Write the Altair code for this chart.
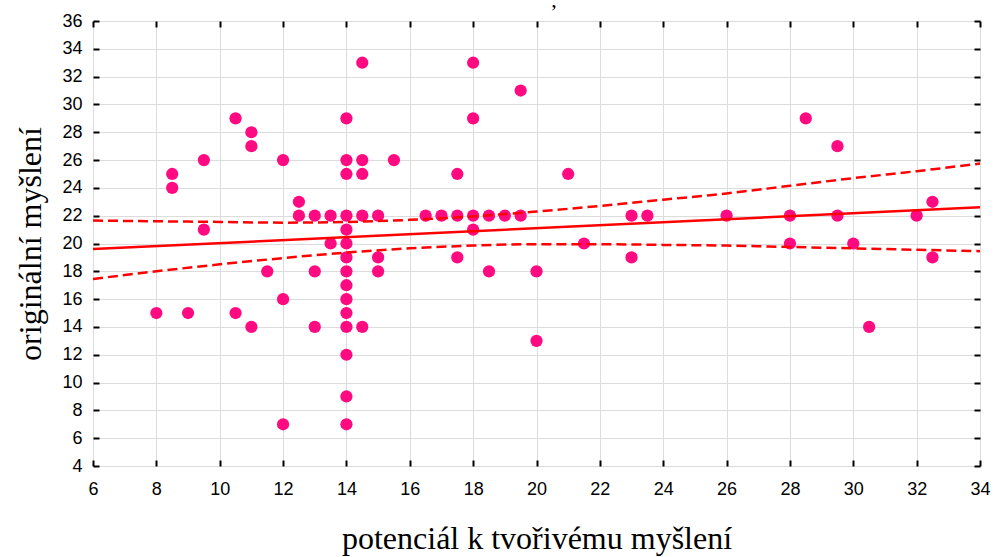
import altair as alt
import pandas as pd

# ---- data ----
pt_x = [8, 8.5, 8.5, 9, 9.5, 9.5, 10.5, 10.5, 11, 11, 11, 11.5,
        12, 12, 12, 12.5, 12.5, 13, 13, 13, 13.5, 13.5,
        14, 14, 14, 14, 14, 14, 14, 14, 14, 14, 14, 14, 14, 14, 14,
        14.5, 14.5, 14.5, 14.5, 14.5, 15, 15, 15, 15.5, 16.5, 17,
        17.5, 17.5, 17.5, 18, 18, 18, 18, 18.5, 18.5, 19, 19.5, 19.5,
        20, 20, 21, 21.5, 23, 23, 23.5, 26, 28, 28, 28.5, 29.5, 29.5,
        30, 30.5, 32, 32.5, 32.5]
pt_y = [15, 25, 24, 15, 26, 21, 29, 15, 28, 27, 14, 18,
        26, 16, 7, 23, 22, 22, 18, 14, 22, 20,
        29, 26, 25, 22, 21, 20, 19, 18, 17, 16, 15, 14, 12, 9, 7,
        33, 26, 25, 22, 14, 22, 19, 18, 26, 22, 22,
        25, 22, 19, 33, 29, 22, 21, 22, 18, 22, 31, 22,
        18, 13, 25, 20, 22, 19, 22, 22, 22, 20, 29, 27, 22,
        20, 14, 22, 23, 19]

fit_x = [6, 34]
fit_y = [19.6, 22.6]

band_x = [6, 8, 10, 12, 14, 16, 18, 20, 22, 24, 26, 28, 30, 32, 34]
band_upper = [21.65, 21.6, 21.55, 21.5, 21.55, 21.7, 21.95, 22.3, 22.7,
              23.15, 23.6, 24.15, 24.7, 25.2, 25.75]
band_lower = [17.45, 18.0, 18.5, 18.95, 19.35, 19.65, 19.85, 19.95, 19.95,
              19.9, 19.85, 19.75, 19.65, 19.55, 19.45]

x_ticks = list(range(6, 35, 2))
y_ticks = list(range(4, 37, 2))

x_title = "potenciál k tvořivému myšlení"
y_title = "originální myšlení"
top_fragment = [","]   # the only visible piece of the clipped chart title

# ---- tables ----
pts = pd.DataFrame({"x": pt_x, "y": pt_y})
fit = pd.DataFrame({"x": fit_x, "y": fit_y})
bands = pd.DataFrame({
    "x": band_x * 2,
    "y": band_upper + band_lower,
    "which": ["upper"] * len(band_x) + ["lower"] * len(band_x),
})
frag = pd.DataFrame({"t": top_fragment})

LABEL_FONT = "Liberation Sans"
TITLE_FONT = "Liberation Serif"

xs = alt.Scale(domain=[6, 34], nice=False, zero=False)
ys = alt.Scale(domain=[4, 36], nice=False, zero=False)

common_axis = dict(
    domain=False, ticks=True, tickSize=6, tickWidth=2, tickColor="black",
    offset=-6,
)

x_bottom = alt.Axis(
    orient="bottom", values=x_ticks, format="d", grid=True,
    gridColor="#dcdcdc", gridWidth=1, labelFlush=False,
    labelFont=LABEL_FONT, labelFontSize=18, labelColor="black", labelPadding=14,
    title=x_title, titleFont=TITLE_FONT, titleFontSize=32,
    titleFontWeight="normal", titleColor="black", titlePadding=25,
    **common_axis,
)
y_left = alt.Axis(
    orient="left", values=y_ticks, format="d", grid=True,
    gridColor="#dcdcdc", gridWidth=1,
    labelFont=LABEL_FONT, labelFontSize=18, labelColor="black", labelPadding=11,
    title=y_title, titleFont=TITLE_FONT, titleFontSize=32,
    titleFontWeight="normal", titleColor="black", titlePadding=14,
    **common_axis,
)
x_top = alt.Axis(orient="top", values=x_ticks, grid=False, labels=False,
                 title=None, **common_axis)
y_right = alt.Axis(orient="right", values=y_ticks, grid=False, labels=False,
                   title=None, **common_axis)

points = alt.Chart(pts).mark_circle(
    size=150, color="#FF0A80", opacity=1
).encode(
    x=alt.X("x:Q", scale=xs, axis=x_bottom),
    y=alt.Y("y:Q", scale=ys, axis=y_left),
)

fit_line = alt.Chart(fit).mark_line(color="#FF0000", strokeWidth=2.5).encode(
    x=alt.X("x:Q", scale=xs, axis=x_top),
    y=alt.Y("y:Q", scale=ys, axis=y_right),
)

band_lines = alt.Chart(bands).mark_line(
    color="#FF0000", strokeWidth=2.5, strokeDash=[10, 5], interpolate="monotone"
).encode(
    x=alt.X("x:Q", scale=xs, axis=None),
    y=alt.Y("y:Q", scale=ys, axis=None),
    detail="which:N",
)

fragment = alt.Chart(frag).mark_text(
    font=TITLE_FONT, fontSize=22, color="black", baseline="alphabetic",
    align="center",
).encode(
    text="t:N",
    x=alt.value(461),
    y=alt.value(-14),
)

chart = alt.layer(points, band_lines, fit_line, fragment).resolve_axis(
    x="independent", y="independent"
).properties(
    width=887,
    height=445,
    autosize=alt.AutoSizeParams(type="none"),
    padding={"left": 93, "top": 21, "right": 15, "bottom": 91},
).configure_view(
    stroke="black", strokeWidth=2
).configure(background="white")

chart.save("out.html", embed_options={"renderer": "svg", "actions": False})
